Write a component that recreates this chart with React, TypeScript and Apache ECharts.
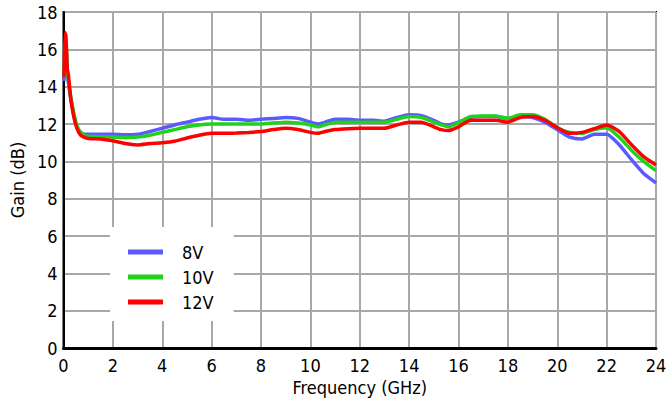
import React, { useEffect, useRef } from "react";
import * as echarts from "echarts";

const freq = [0.02, 0.06, 0.1, 0.15, 0.2, 0.3, 0.4, 0.5, 0.6, 0.7, 0.85, 1.0, 1.5, 2.0, 2.5, 3.0, 3.5, 4.0, 4.5, 5.0, 5.5, 6.0, 6.5, 7, 7.5, 8, 8.5, 9, 9.5, 10, 10.3, 10.6, 11, 11.5, 12, 12.5, 13, 13.5, 14, 14.5, 15, 15.3, 15.6, 16, 16.5, 17, 17.5, 18, 18.5, 19, 19.5, 20, 20.5, 21, 21.5, 22, 22.5, 23, 23.5, 24];

const gain8V = [14.3, 15.8, 16.2, 14.8, 14.2, 13.3, 12.6, 12.0, 11.7, 11.55, 11.45, 11.45, 11.45, 11.45, 11.42, 11.45, 11.6, 11.77, 11.95, 12.1, 12.25, 12.35, 12.25, 12.25, 12.2, 12.25, 12.3, 12.35, 12.3, 12.1, 12.0, 12.1, 12.25, 12.25, 12.2, 12.2, 12.15, 12.35, 12.5, 12.45, 12.2, 12.0, 11.95, 12.1, 12.35, 12.4, 12.4, 12.3, 12.4, 12.35, 12.1, 11.7, 11.3, 11.2, 11.45, 11.45, 10.9, 10.1, 9.35, 8.85];

const gain10V = [14.5, 16.0, 16.4, 14.9, 14.3, 13.4, 12.7, 12.1, 11.75, 11.55, 11.4, 11.35, 11.32, 11.3, 11.28, 11.3, 11.4, 11.55, 11.7, 11.85, 11.95, 12.0, 12.0, 12.0, 12.0, 12.0, 12.05, 12.1, 12.05, 11.95, 11.85, 11.95, 12.1, 12.1, 12.1, 12.1, 12.1, 12.25, 12.4, 12.35, 12.1, 11.95, 11.85, 12.07, 12.4, 12.43, 12.43, 12.3, 12.5, 12.5, 12.25, 11.8, 11.55, 11.5, 11.7, 11.8, 11.3, 10.6, 10.0, 9.5];

const gain12V = [14.5, 16.9, 16.7, 15.0, 14.6, 13.3, 12.5, 11.95, 11.6, 11.4, 11.28, 11.22, 11.2, 11.1, 10.95, 10.88, 10.95, 11.0, 11.08, 11.25, 11.4, 11.5, 11.5, 11.52, 11.55, 11.6, 11.7, 11.77, 11.7, 11.55, 11.5, 11.6, 11.7, 11.75, 11.77, 11.77, 11.77, 11.95, 12.1, 12.1, 11.85, 11.7, 11.65, 11.85, 12.2, 12.2, 12.2, 12.1, 12.35, 12.4, 12.2, 11.8, 11.5, 11.55, 11.75, 11.95, 11.6, 10.9, 10.25, 9.8];

const seriesNames = ["8V", "10V", "12V"];
const seriesColors = ["#5a5aff", "#1ed21e", "#ff0000"];
const seriesValues = [gain8V, gain10V, gain12V];

const FONT = "'DejaVu Sans Condensed', 'DejaVu Sans', sans-serif";

export default function App() {
  const ref = useRef<HTMLDivElement>(null);
  useEffect(() => {
    if (!ref.current) return;
    const chart = echarts.init(ref.current, null, { renderer: "svg" });
    chart.setOption({
      animation: false,
      backgroundColor: "#ffffff",
      grid: {
        left: 58.5,
        right: 14,
        top: 12,
        bottom: 57,
        show: true,
        borderColor: "#000000",
        borderWidth: 2,
        backgroundColor: "transparent",
      },
      legend: {
        data: seriesNames,
        orient: "vertical",
        left: 110,
        top: 227,
        backgroundColor: "#ffffff",
        borderWidth: 0,
        padding: [16, 20, 10, 18],
        itemWidth: 35,
        itemHeight: 5,
        itemGap: 7,
        icon: "rect",
        textStyle: {
          fontFamily: FONT,
          fontSize: 18,
          color: "#000",
          padding: [0, 0, 0, 14],
        },
      },
      xAxis: {
        type: "value",
        min: 0,
        max: 24,
        interval: 2,
        name: "Frequency (GHz)",
        nameLocation: "middle",
        nameGap: 28,
        nameTextStyle: { fontFamily: FONT, fontSize: 18, color: "#000" },
        axisLine: { show: true, lineStyle: { color: "#000", width: 3 } },
        axisTick: { show: false },
        axisLabel: { fontFamily: FONT, fontSize: 18, color: "#000", margin: 8 },
        splitLine: { show: true, lineStyle: { color: "#a8a8a8", width: 2 } },
      },
      yAxis: {
        type: "value",
        min: 0,
        max: 18,
        interval: 2,
        name: "Gain (dB)",
        nameLocation: "middle",
        nameGap: 36,
        nameTextStyle: { fontFamily: FONT, fontSize: 18, color: "#000" },
        axisLine: { show: true, lineStyle: { color: "#000", width: 2 } },
        axisTick: { show: false },
        axisLabel: { fontFamily: FONT, fontSize: 18, color: "#000", margin: 6 },
        splitLine: { show: true, lineStyle: { color: "#a8a8a8", width: 2 } },
      },
      series: seriesNames.map((name, i) => ({
        name,
        type: "line",
        data: freq.map((f, j) => [f, seriesValues[i][j]]),
        showSymbol: false,
        symbol: "none",
        smooth: 0.2,
        lineStyle: { color: seriesColors[i], width: 3.5 },
        itemStyle: { color: seriesColors[i] },
      })),
    });
    return () => chart.dispose();
  }, []);
  return (
    <div
      ref={ref}
      style={{ position: "fixed", left: 0, top: 0, width: 670, height: 405 }}
    />
  );
}
